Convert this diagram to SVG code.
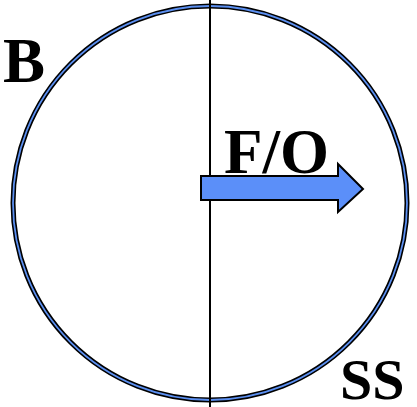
<svg xmlns="http://www.w3.org/2000/svg" width="417" height="407" viewBox="0 0 417 407">
<style>
.lbl{font-family:"Liberation Serif","Times New Roman",serif;font-weight:bold;font-size:63px;fill:#000}
</style>
<rect width="417" height="407" fill="#fff"/>
<g id="circle">
<circle cx="210" cy="203" r="197" fill="none" stroke="#000" stroke-width="5"/>
<circle cx="210" cy="203" r="197" fill="none" stroke="#5b8ff0" stroke-width="1.8"/>
</g>
<g id="connectors">
<line x1="210" y1="0" x2="210" y2="407" stroke="#000" stroke-width="2"/>
<polygon points="201,176 338,176 338,164 363,189 338,212 338,200 201,200" fill="#5b8ff9" stroke="#000" stroke-width="2" stroke-linejoin="miter"/>
</g>
<g id="label-B"><text class="lbl" x="3" y="82">B</text></g>
<g id="label-FO"><text class="lbl" x="224" y="173">F/O</text></g>
<g id="label-SS"><text class="lbl" x="340" y="399" style="font-size:58px">SS</text></g>
</svg>
